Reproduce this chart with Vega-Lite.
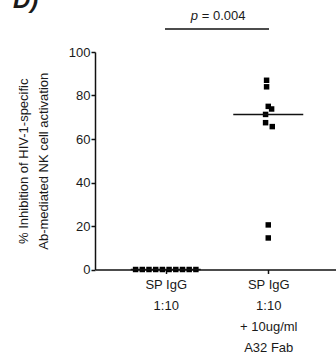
{
  "$schema": "https://vega.github.io/schema/vega-lite/v6.json",
  "width": 244,
  "height": 217.5,
  "autosize": "none",
  "padding": {"left": 95, "top": 52, "right": 0, "bottom": 87},
  "background": "white",
  "config": {
    "font": "Liberation Sans",
    "view": {"stroke": null},
    "axis": {"grid": false, "domainColor": "#111", "domainWidth": 1.5, "tickColor": "#111", "tickWidth": 1.5, "labelColor": "#1a1a1a", "titleColor": "#1a1a1a", "labelFontSize": 13, "titleFontWeight": "normal"}
  },
  "title": {"text": "D)", "anchor": "start", "frame": "group", "fontSize": 24, "fontStyle": "italic", "fontWeight": "bold", "color": "#1a1a1a", "dx": -82, "offset": -27, "baseline": "bottom"},
  "datasets": {
    "points": [
      {"group": "SP IgG 1:10", "jitter": -4.5, "value": 0},
      {"group": "SP IgG 1:10", "jitter": -3.5, "value": 0},
      {"group": "SP IgG 1:10", "jitter": -2.5, "value": 0},
      {"group": "SP IgG 1:10", "jitter": -1.5, "value": 0},
      {"group": "SP IgG 1:10", "jitter": -0.5, "value": 0},
      {"group": "SP IgG 1:10", "jitter": 0.5, "value": 0},
      {"group": "SP IgG 1:10", "jitter": 1.5, "value": 0},
      {"group": "SP IgG 1:10", "jitter": 2.5, "value": 0},
      {"group": "SP IgG 1:10", "jitter": 3.5, "value": 0},
      {"group": "SP IgG 1:10", "jitter": 4.5, "value": 0},
      {"group": "SP IgG 1:10 + 10ug/ml A32 Fab", "jitter": -0.25, "value": 87},
      {"group": "SP IgG 1:10 + 10ug/ml A32 Fab", "jitter": -0.25, "value": 84},
      {"group": "SP IgG 1:10 + 10ug/ml A32 Fab", "jitter": 0, "value": 75},
      {"group": "SP IgG 1:10 + 10ug/ml A32 Fab", "jitter": 0.5, "value": 73.8},
      {"group": "SP IgG 1:10 + 10ug/ml A32 Fab", "jitter": -0.4, "value": 71.3},
      {"group": "SP IgG 1:10 + 10ug/ml A32 Fab", "jitter": -0.4, "value": 67.5},
      {"group": "SP IgG 1:10 + 10ug/ml A32 Fab", "jitter": 0.6, "value": 65.7},
      {"group": "SP IgG 1:10 + 10ug/ml A32 Fab", "jitter": 0, "value": 20.5},
      {"group": "SP IgG 1:10 + 10ug/ml A32 Fab", "jitter": 0, "value": 14.5}
    ],
    "bracket": [
      {"from": "SP IgG 1:10", "to": "SP IgG 1:10 + 10ug/ml A32 Fab", "y": 110.6, "ty": 114.7, "p": "p", "rest": "= 0.004"}
    ]
  },
  "layer": [
    {
      "data": {"name": "points"},
      "mark": {"type": "point", "shape": "square", "filled": true, "size": 30, "color": "#000", "opacity": 1},
      "encoding": {
        "x": {"field": "group", "type": "nominal", "sort": null,
          "scale": {"type": "point", "padding": 0.69},
          "axis": {"title": null, "labelAngle": 0, "tickSize": 4, "labelPadding": 5, "labelLineHeight": 21, "labelBaseline": "top",
            "labelExpr": "datum.value == 'SP IgG 1:10' ? ['SP IgG', '1:10'] : ['SP IgG', '1:10', '+ 10ug/ml', 'A32 Fab']"}},
        "xOffset": {"field": "jitter", "type": "quantitative", "scale": {"domain": [-5, 5], "range": [-33.5, 33.5]}},
        "y": {"field": "value", "type": "quantitative",
          "scale": {"domain": [0, 100], "nice": false},
          "axis": {"values": [0, 20, 40, 60, 80, 100], "tickSize": 4, "labelPadding": 1,
            "title": ["% Inhibition of HIV-1-specific", "Ab-mediated NK cell activation"],
            "titleFontSize": 13, "titleLineHeight": 20, "titlePadding": 18}}
      }
    },
    {
      "data": {"name": "points"},
      "mark": {"type": "tick", "color": "#111", "size": 70, "thickness": 1.5},
      "encoding": {
        "x": {"field": "group", "type": "nominal", "sort": null},
        "y": {"aggregate": "median", "field": "value", "type": "quantitative"}
      }
    },
    {
      "data": {"name": "bracket"},
      "mark": {"type": "rule", "color": "#111", "strokeWidth": 1.5, "strokeCap": "square"},
      "encoding": {
        "x": {"field": "from", "type": "nominal"},
        "x2": {"field": "to"},
        "y": {"field": "y", "type": "quantitative"}
      }
    },
    {
      "data": {"name": "bracket"},
      "mark": {"type": "text", "fontSize": 13, "fontStyle": "italic", "align": "left", "baseline": "alphabetic", "dx": 25, "color": "#1a1a1a"},
      "encoding": {
        "x": {"field": "from", "type": "nominal"},
        "y": {"field": "ty", "type": "quantitative"},
        "text": {"field": "p"}
      }
    },
    {
      "data": {"name": "bracket"},
      "mark": {"type": "text", "fontSize": 13, "align": "left", "baseline": "alphabetic", "dx": 36, "color": "#1a1a1a"},
      "encoding": {
        "x": {"field": "from", "type": "nominal"},
        "y": {"field": "ty", "type": "quantitative"},
        "text": {"field": "rest"}
      }
    }
  ]
}
